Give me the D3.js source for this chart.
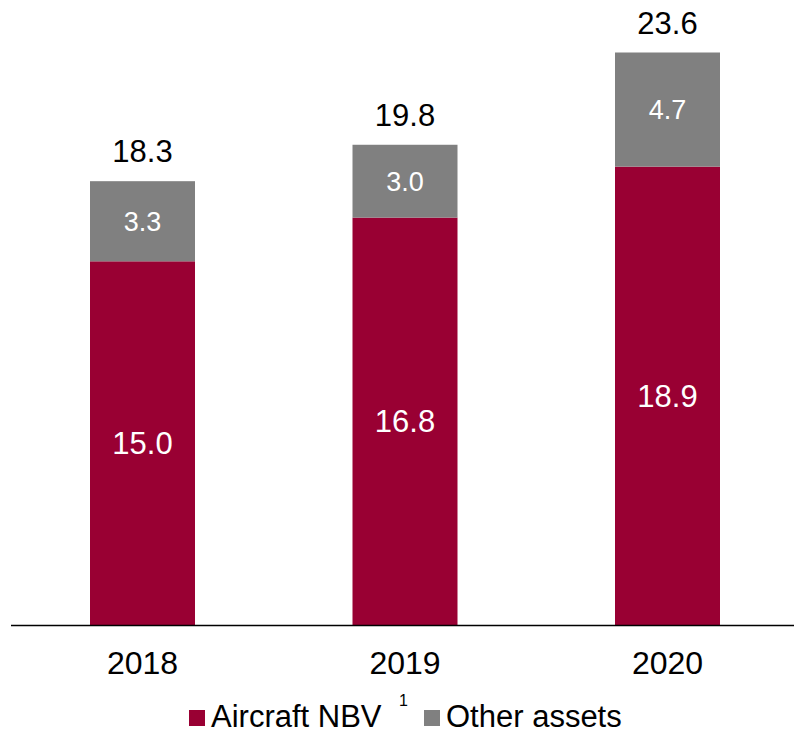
<!DOCTYPE html>
<html>
<head>
<meta charset="utf-8">
<script src="https://cdn.jsdelivr.net/npm/d3@7"></script>
<style>
  body { margin: 0; background: #fff; }
  svg { display: block; font-family: "Liberation Sans", Arial, sans-serif; }
</style>
</head>
<body>
<svg id="chart" width="794" height="732"></svg>
<script>
const years = ["2018", "2019", "2020"];
const aircraft = [15.0, 16.8, 18.9];
const other = [3.3, 3.0, 4.7];
const totals = [18.3, 19.8, 23.6];
const seriesNames = ["Aircraft NBV", "Other assets"];
const colors = ["#990033", "#808080"];

const svg = d3.select("#chart");
const baseline = 625.5;

const x = d3.scaleBand()
    .domain(years)
    .range([11.25, 798.75])
    .paddingInner(0.6)
    .paddingOuter(0.3);

const y = d3.scaleLinear()
    .domain([0, 23.6])
    .range([baseline, 52.5]);

const rows = years.map((yr, i) => ({ year: yr, aircraft: aircraft[i], other: other[i], total: totals[i] }));
const stacked = d3.stack().keys(["aircraft", "other"])(rows);

// bars
stacked.forEach((layer, li) => {
    svg.append("g")
      .selectAll("rect")
      .data(layer)
      .join("rect")
      .attr("x", d => x(d.data.year))
      .attr("width", x.bandwidth())
      .attr("y", d => y(d[1]))
      .attr("height", d => y(d[0]) - y(d[1]))
      .attr("fill", colors[li]);

    svg.append("g")
      .selectAll("text")
      .data(layer)
      .join("text")
      .attr("x", d => x(d.data.year) + x.bandwidth() / 2)
      .attr("y", d => (y(d[0]) + y(d[1])) / 2)
      .attr("dy", "0.35em")
      .attr("text-anchor", "middle")
      .attr("fill", "#fff")
      .style("font-size", li === 0 ? "31px" : "27px")
      .text(d => (d[1] - d[0]).toFixed(1));
});

// totals
svg.append("g")
  .selectAll("text")
  .data(rows)
  .join("text")
  .attr("x", d => x(d.year) + x.bandwidth() / 2)
  .attr("y", d => y(d.total) - 19)
  .attr("text-anchor", "middle")
  .attr("fill", "#000")
  .style("font-size", "31px")
  .text(d => d.total.toFixed(1));

// x axis
const xAxis = svg.append("g")
    .attr("transform", "translate(0," + baseline + ")")
    .call(d3.axisBottom(x).tickSize(0).tickPadding(0));
xAxis.select(".domain").remove();
xAxis.selectAll("text")
    .attr("y", 48.5)
    .attr("dy", 0)
    .attr("fill", "#000")
    .style("font-size", "32px")
    .style("font-family", "'Liberation Sans', Arial, sans-serif");

svg.append("line")
    .attr("x1", 11).attr("x2", 794)
    .attr("y1", baseline).attr("y2", baseline)
    .attr("stroke", "#000")
    .attr("stroke-width", 1.5);

// legend
const legend = svg.append("g");
legend.append("rect").attr("x", 189).attr("y", 710).attr("width", 16).attr("height", 16).attr("fill", colors[0]);
legend.append("text").attr("x", 211).attr("y", 727).style("font-size", "31px").text(seriesNames[0]);
legend.append("text").attr("x", 399).attr("y", 706).style("font-size", "16px").text("1");
legend.append("rect").attr("x", 424).attr("y", 710).attr("width", 16).attr("height", 16).attr("fill", colors[1]);
legend.append("text").attr("x", 446).attr("y", 727).style("font-size", "31px").text(seriesNames[1]);
</script>
</body>
</html>
